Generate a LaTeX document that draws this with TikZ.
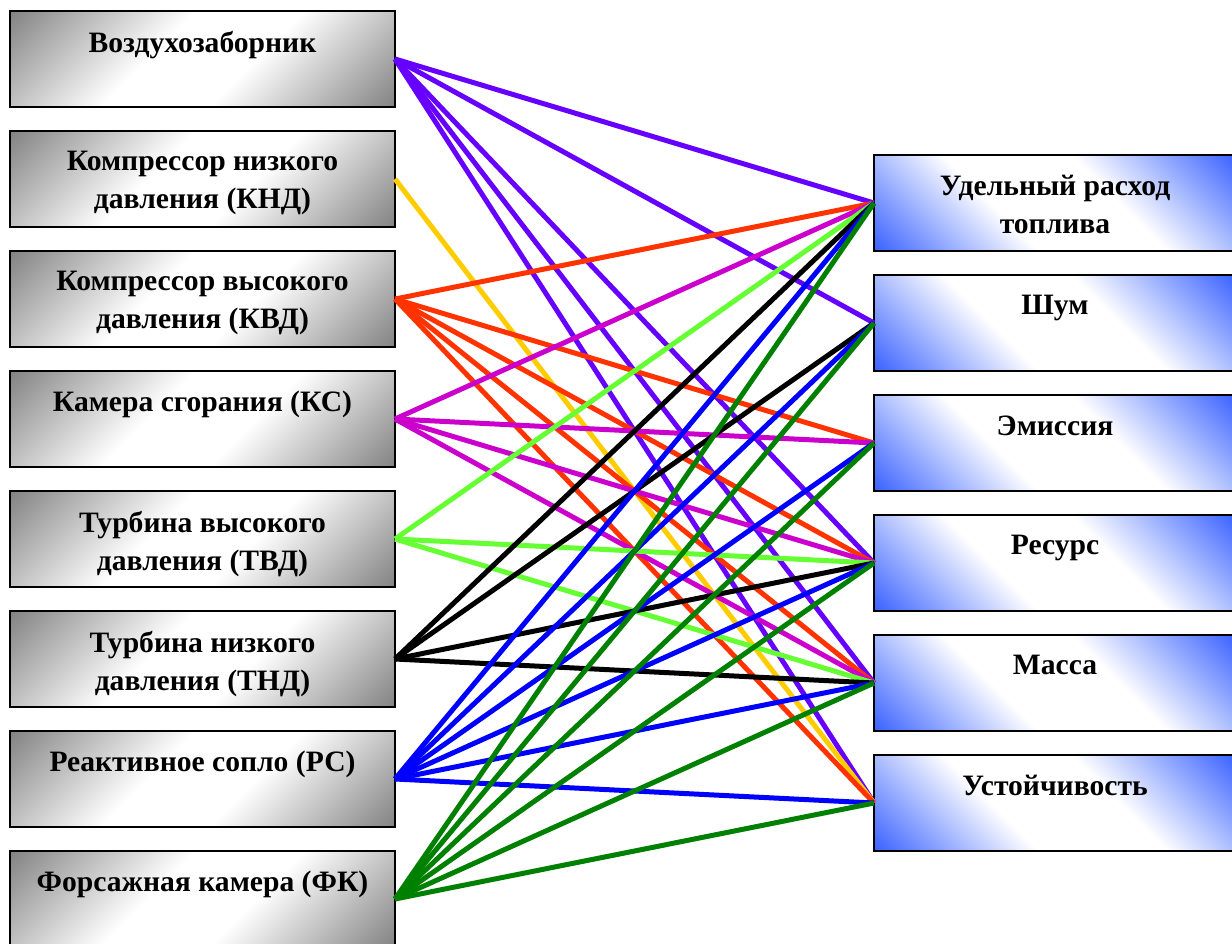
\documentclass[tikz,border=0pt]{standalone}
\usepackage{fontspec}
\setmainfont{Liberation Serif}
\usetikzlibrary{positioning}

\definecolor{boxgray}{RGB}{128,128,128}
\definecolor{boxblue}{RGB}{60,100,255}
\definecolor{cvz}{RGB}{102,0,255}
\definecolor{cknd}{RGB}{255,204,0}
\definecolor{ckvd}{RGB}{255,51,0}
\definecolor{cks}{RGB}{204,0,204}
\definecolor{ctvd}{RGB}{102,255,51}
\definecolor{crs}{RGB}{0,0,255}
\definecolor{cfk}{RGB}{0,128,0}

\pgfdeclareverticalshading{grayband}{100bp}{color(0bp)=(boxgray); color(14bp)=(boxgray);
    color(42bp)=(white); color(58bp)=(white); color(86bp)=(boxgray); color(100bp)=(boxgray)}
\pgfdeclareverticalshading{blueband}{100bp}{color(0bp)=(boxblue); color(15bp)=(boxblue);
    color(40bp)=(white); color(60bp)=(white); color(85bp)=(boxblue); color(100bp)=(boxblue)}

\begin{document}
\begin{tikzpicture}[x=0.5pt, y=-0.5pt,
        node distance = 12pt,
        part/.style = {draw, line width=0.9pt, inner sep=0pt, outer sep=0pt,
            minimum width=192.5pt, minimum height=48pt,
            shading=grayband, shading angle=45},
        crit/.style = {part, minimum width=181pt,
            shading=blueband, shading angle=-45},
        txt/.style = {inner sep=0pt, align=center,
            font=\bfseries\fontsize{14.8}{19}\selectfont},
        link/.style = {line width=2.5pt}]
    \useasboundingbox (0,0) rectangle (1232,943);
    \clip (0,0) rectangle (1232,943);
    % left column
    \node[part] (vz) at (202.5,59) {};
    \node[part, below=of vz] (knd) {};
    \node[part, below=of knd] (kvd) {};
    \node[part, below=of kvd] (ks) {};
    \node[part, below=of ks] (tvd) {};
    \node[part, below=of tvd] (tnd) {};
    \node[part, below=of tnd] (rs) {};
    \node[part, below=of rs] (fk) {};
    % right column
    \node[crit] (udr) at (1055,203) {};
    \node[crit, below=of udr] (shum) {};
    \node[crit, below=of shum] (emis) {};
    \node[crit, below=of emis] (res) {};
    \node[crit, below=of res] (mass) {};
    \node[crit, below=of mass] (ust) {};
    % texts
    \node[txt, below=10pt of vz.north] (vzt) {Воздухозаборник};
    \node[txt, below=10pt of knd.north] (kndt) {Компрессор низкого\\давления (КНД)};
    \node[txt, below=10pt of kvd.north] (kvdt) {Компрессор высокого\\давления (КВД)};
    \node[txt, below=10pt of ks.north] (kst) {Камера сгорания (КС)};
    \node[txt, below=10pt of tvd.north] (tvdt) {Турбина высокого\\давления (ТВД)};
    \node[txt, below=10pt of tnd.north] (tndt) {Турбина низкого\\давления (ТНД)};
    \node[txt, below=10pt of rs.north] (rst) {Реактивное сопло (РС)};
    \node[txt, below=10pt of fk.north] (fkt) {Форсажная камера (ФК)};
    \node[txt, below=10pt of udr.north] (udrt) {Удельный расход\\топлива};
    \node[txt, below=10pt of shum.north] (shumt) {Шум};
    \node[txt, below=10pt of emis.north] (emist) {Эмиссия};
    \node[txt, below=10pt of res.north] (rest) {Ресурс};
    \node[txt, below=10pt of mass.north] (masst) {Масса};
    \node[txt, below=10pt of ust.north] (ustt) {Устойчивость};
    % links
    \path[link, draw=cvz]
        (vz.east) edge (udr.west)
        (vz.east) edge (shum.west)
        (vz.east) edge (res.west)
        (vz.east) edge (mass.west)
        (vz.east) edge (ust.west);
    \path[link, draw=cknd]
        (knd.east) edge (ust.west);
    \path[link, draw=ckvd]
        (kvd.east) edge (udr.west)
        (kvd.east) edge (emis.west)
        (kvd.east) edge (res.west)
        (kvd.east) edge (mass.west)
        (kvd.east) edge (ust.west);
    \path[link, draw=cks]
        (ks.east) edge (udr.west)
        (ks.east) edge (emis.west)
        (ks.east) edge (res.west)
        (ks.east) edge (mass.west);
    \path[link, draw=ctvd]
        (tvd.east) edge (udr.west)
        (tvd.east) edge (res.west)
        (tvd.east) edge (mass.west);
    \path[link, draw=black]
        (tnd.east) edge (udr.west)
        (tnd.east) edge (shum.west)
        (tnd.east) edge (res.west)
        (tnd.east) edge (mass.west);
    \path[link, draw=crs]
        (rs.east) edge (udr.west)
        (rs.east) edge (shum.west)
        (rs.east) edge (emis.west)
        (rs.east) edge (res.west)
        (rs.east) edge (mass.west)
        (rs.east) edge (ust.west);
    \path[link, draw=cfk]
        (fk.east) edge (udr.west)
        (fk.east) edge (shum.west)
        (fk.east) edge (emis.west)
        (fk.east) edge (res.west)
        (fk.east) edge (mass.west)
        (fk.east) edge (ust.west);
\end{tikzpicture}
\end{document}
